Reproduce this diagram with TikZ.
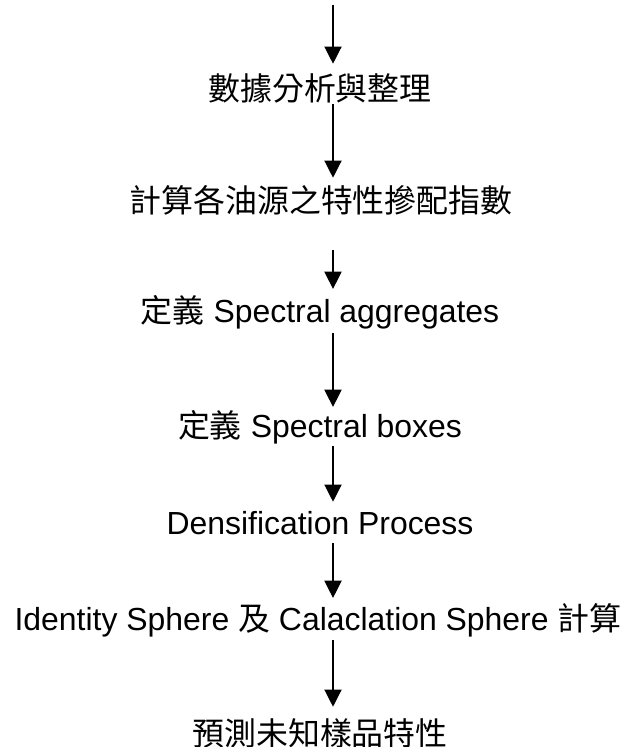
\documentclass[tikz,border=0pt]{standalone}
\usepackage{fontspec}
\setmainfont{Liberation Sans}
\newfontfamily\cjk{Noto Sans CJK TC}
\usetikzlibrary{arrows.meta}
\newcommand{\zh}[1]{{\cjk #1}}

\begin{document}
\begin{tikzpicture}[
  x=0.025cm, y=-0.025cm,
  font=\fontsize{22.7}{27}\selectfont,
  stage/.style={inner sep=0pt, minimum height=8mm},
  flow/.style={-{Triangle[length=4.3mm,width=4.3mm]}, line width=0.9pt}
]
\useasboundingbox (0,0) rectangle (625,747);
\coordinate (top) at (333,5);
\node[stage] (tidy)    at (320,88)  {\zh{數據分析與整理}};
\node[stage] (blend)   at (321,200) {\zh{計算各油源之特性摻配指數}};
\node[stage] (aggr)    at (320,312) {\zh{定義} Spectral aggregates};
\node[stage] (boxes)   at (320,427) {\zh{定義} Spectral boxes};
\node[stage] (dens)    at (320,523) {Densification Process};
\node[stage] (sphere)  at (318,620) {Identity Sphere \zh{及} Calaclation Sphere \zh{計算}};
\node[stage] (predict) at (320,733) {\zh{預測未知樣品特性}};
\draw[flow, shorten >=2mm] (top) -- (tidy.north -| top);
\draw[flow, shorten >=1.5mm] (tidy.south -| top) -- (blend.north -| top);
\draw[flow, shorten <=8.5mm, shorten >=1.5mm] (blend.south -| top) -- (aggr.north -| top);
\draw[flow, shorten <=1mm, shorten >=0.75mm] (aggr.south -| top) -- (boxes.north -| top);
\draw[flow, shorten <=0.5mm, shorten >=1.25mm] (boxes.south -| top) -- (dens.north -| top);
\draw[flow, shorten <=1mm, shorten >=1.25mm] (dens.south -| top) -- (sphere.north -| top);
\draw[flow, shorten <=0.75mm, shorten >=2.5mm] (sphere.south -| top) -- (predict.north -| top);
\end{tikzpicture}
\end{document}
